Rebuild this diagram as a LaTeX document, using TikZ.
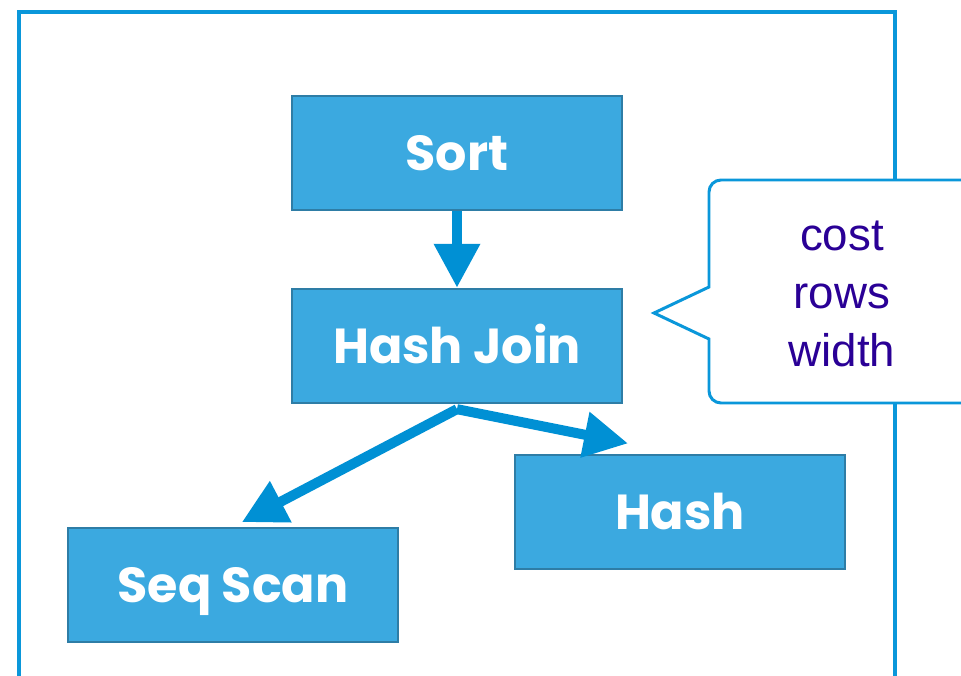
\documentclass[tikz,border=0pt]{standalone}
\usepackage{fontspec}
\setsansfont{Liberation Sans}
\newfontfamily\opfont{Poppins}
\usetikzlibrary{arrows.meta}

\definecolor{opfill}{RGB}{59,169,224}
\definecolor{opdraw}{RGB}{46,125,166}
\definecolor{flowblue}{RGB}{0,144,212}
\definecolor{frameblue}{RGB}{10,151,218}
\definecolor{notetext}{RGB}{42,0,150}

\tikzset{
    op/.style =     {rectangle,
                    fill=opfill,
                    draw=opdraw,
                    line width=1.4pt,
                    text=white,
                    minimum width=6.6cm,
                    minimum height=2.28cm,
                    text height=19.6pt,
                    text depth=0pt,
                    font=\opfont\bfseries\fontsize{28}{32}\selectfont},
    flow/.style =   {draw=flowblue,
                    line width=0.2cm,
                    -{Triangle[width=0.88cm,length=0.88cm]}},
    frame/.style =  {draw=frameblue,
                    line width=1.8pt},
    note/.style =   {fill=white,
                    draw=frameblue,
                    line width=1.7pt},
    notetxt/.style = {align=center,
                    text=notetext,
                    font=\sffamily\fontsize{26}{33}\selectfont}}

\begin{document}
\begin{tikzpicture}[x=0.02cm,y=-0.02cm]
        \useasboundingbox (0,0) rectangle (961,676);

        % outer frame, open at the bottom
        \draw[frame] (19,690) -- (19,12) -- (895,12) -- (895,690);

        % plan nodes
        \node[op]       (sort) at (457,153)                         {Sort};
        \node[op]       (join) [below of=sort,node distance=3.86cm] {Hash Join};
        \node[op]       (hash) at (680,512)                         {Hash};
        \node[op]       (seq)  at (233,585)                         {Seq Scan};

        \coordinate (fork) at ([yshift=-0.1cm]join.south);

        \draw[flow]                     (sort) -- (join);
        \draw[flow,shorten >=0.2cm]     (fork) -- (seq.north);
        \draw[flow,shorten >=1.06cm]    (fork) -- (hash.north);

        % callout with the estimates
        \filldraw[note] (975,180) [rounded corners=0.24cm] -- (709,180)
                        [sharp corners] -- (709,287) -- (654,313) -- (709,339)
                        [rounded corners=0.24cm] -- (709,403)
                        [sharp corners] -- (975,403);
        \node[notetxt,anchor=base] (est) at (842,366) {cost\\rows\\width};
\end{tikzpicture}
\end{document}
